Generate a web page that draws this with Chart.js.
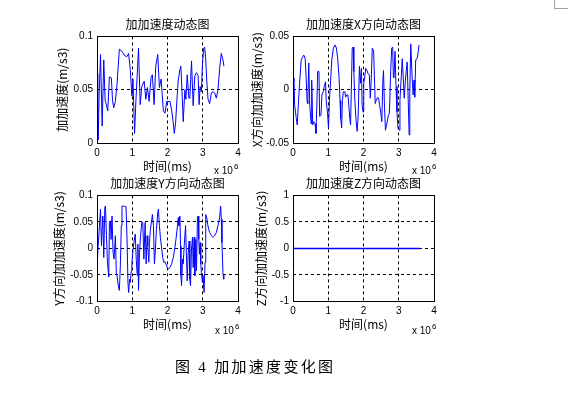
<!DOCTYPE html>
<html>
<head>
<meta charset="utf-8">
<script src="https://cdn.jsdelivr.net/npm/chart.js@4.4.1/dist/chart.umd.min.js"></script>
<style>
body{margin:0;background:#fff;width:568px;height:397px;position:relative;overflow:hidden}
canvas{position:absolute}
.mult{position:absolute;font:10px "Liberation Sans",Arial,sans-serif;line-height:12px;color:#000;white-space:nowrap}
.mult span{position:relative;top:-5px;font-size:8px;margin-left:1px}
#caption{position:absolute;left:175px;top:355px;font:15px "Liberation Serif","Noto Sans CJK SC",serif;letter-spacing:2.3px;color:#000;white-space:pre}
#corner{position:absolute;left:554px;top:0;width:14px;height:8px;border-left:1px solid #a0a0a0;border-bottom:1px solid #a0a0a0}
</style>
</head>
<body>
<div id="corner"></div>
<canvas id="c1" width="192" height="166" style="left:54px;top:10px"></canvas>
<canvas id="c2" width="193" height="166" style="left:249px;top:10px"></canvas>
<canvas id="c3" width="196" height="166" style="left:50px;top:169px"></canvas>
<canvas id="c4" width="193" height="166" style="left:249px;top:169px"></canvas>
<div class="mult" style="left:214px;top:165px">x 10<span>6</span></div>
<div class="mult" style="left:412px;top:165px">x 10<span>6</span></div>
<div class="mult" style="left:215px;top:325px">x 10<span>6</span></div>
<div class="mult" style="left:412px;top:325px">x 10<span>6</span></div>
<div id="caption">图 4 加加速度变化图</div>
<script>
// time in units of 10^6 ms
const xTicks = [0, 1, 2, 3, 4];
const xLabel = "时间(ms)";

const tJerk = [0, 0.02, 0.035, 0.06, 0.1, 0.146, 0.192, 0.23, 0.258, 0.305, 0.352, 0.408, 0.44, 0.474, 0.521, 0.568, 0.634, 0.709, 0.784, 0.85, 0.897, 0.944, 0.99, 1.02, 1.066, 1.103, 1.178, 1.225, 1.272, 1.338, 1.385, 1.432, 1.479, 1.535, 1.572, 1.62, 1.667, 1.723, 1.77, 1.817, 1.883, 1.93, 1.976, 2.07, 2.117, 2.164, 2.192, 2.23, 2.268, 2.305, 2.352, 2.38, 2.418, 2.446, 2.493, 2.521, 2.559, 2.606, 2.634, 2.681, 2.728, 2.775, 2.822, 2.869, 2.897, 2.925, 2.962, 2.99, 3.028, 3.056, 3.085, 3.113, 3.15, 3.197, 3.244, 3.291, 3.338, 3.385, 3.432, 3.479, 3.526, 3.573, 3.601];
const jerk = [0.065, 0.03, 0.003, 0.045, 0.083, 0.016, 0.078, 0.04, 0.037, 0.03, 0.062, 0.061, 0.04, 0.033, 0.039, 0.055, 0.088, 0.086, 0.082, 0.081, 0.084, 0.069, 0.044, 0.06, 0.009, 0.039, 0.089, 0.036, 0.053, 0.058, 0.041, 0.052, 0.039, 0.062, 0.064, 0.036, 0.072, 0.083, 0.052, 0.06, 0.03, 0.028, 0.039, 0.039, 0.031, 0.019, 0.009, 0.019, 0.041, 0.059, 0.069, 0.072, 0.043, 0.02, 0.05, 0.041, 0.064, 0.042, 0.042, 0.077, 0.035, 0.063, 0.066, 0.063, 0.036, 0.053, 0.048, 0.073, 0.089, 0.09, 0.078, 0.059, 0.041, 0.037, 0.047, 0.048, 0.047, 0.042, 0.05, 0.07, 0.084, 0.078, 0.072];

const tJerkX = [0, 0.027, 0.046, 0.093, 0.12, 0.158, 0.186, 0.233, 0.279, 0.307, 0.345, 0.372, 0.4, 0.419, 0.447, 0.475, 0.513, 0.531, 0.559, 0.587, 0.625, 0.652, 0.68, 0.699, 0.737, 0.755, 0.793, 0.82, 0.858, 0.886, 0.923, 0.942, 0.979, 1.007, 1.035, 1.073, 1.101, 1.147, 1.194, 1.231, 1.269, 1.306, 1.334, 1.353, 1.381, 1.4, 1.428, 1.474, 1.493, 1.521, 1.558, 1.586, 1.614, 1.633, 1.68, 1.708, 1.726, 1.754, 1.792, 1.82, 1.848, 1.885, 1.913, 1.941, 1.96, 1.988, 2.007, 2.035, 2.063, 2.1, 2.128, 2.165, 2.193, 2.221, 2.249, 2.287, 2.315, 2.333, 2.361, 2.399, 2.427, 2.455, 2.492, 2.52, 2.548, 2.567, 2.595, 2.623, 2.66, 2.707, 2.735, 2.772, 2.8, 2.828, 2.847, 2.866, 2.894, 2.922, 2.95, 2.978, 3.015, 3.034, 3.071, 3.099, 3.127, 3.155, 3.183, 3.211, 3.239, 3.267, 3.295, 3.313, 3.341, 3.379, 3.407, 3.435, 3.453, 3.481, 3.519, 3.547, 3.575];
const jerkX = [0.0075, 0.011, -0.014, -0.027, -0.033, -0.01, 0.006, 0.028, 0.031, 0.0325, 0.029, 0.012, -0.011, -0.013, 0.025, -0.014, -0.032, 0.009, -0.033, -0.03, -0.032, -0.041, -0.01, 0.017, 0.017, -0.025, -0.024, -0.005, -0.002, 0.003, 0.0075, -0.01, -0.022, -0.036, -0.01, 0.012, 0.028, 0.039, 0.042, 0.039, 0.029, 0.012, -0.01, -0.027, -0.036, -0.01, -0.002, -0.002, -0.007, -0.005, -0.005, -0.016, -0.028, -0.033, 0.039, 0.04, 0.017, -0.01, -0.03, -0.039, -0.025, 0.022, 0.006, 0.02, -0.014, -0.021, 0.006, 0.012, 0.02, 0.018, 0.015, 0.014, -0.008, 0.011, 0.039, 0.037, 0.006, -0.013, -0.01, -0.007, -0.008, -0.014, -0.022, -0.03, 0.0075, 0.018, -0.016, -0.038, -0.032, -0.024, -0.022, 0.018, 0.039, 0.04, 0.012, 0.011, 0.036, 0.003, -0.021, -0.036, -0.038, -0.01, 0.012, 0.029, 0.012, -0.008, 0.006, 0.017, 0.026, -0.008, -0.0425, -0.003, 0.043, 0.012, -0.005, 0.009, -0.007, 0.028, 0.029, 0.034, 0.042];

const tJerkY = [0, 0.014, 0.033, 0.07, 0.099, 0.127, 0.146, 0.164, 0.192, 0.221, 0.24, 0.268, 0.296, 0.333, 0.352, 0.38, 0.399, 0.427, 0.455, 0.484, 0.521, 0.549, 0.568, 0.596, 0.634, 0.662, 0.69, 0.709, 0.737, 0.784, 0.822, 0.85, 0.878, 0.897, 0.925, 0.944, 0.972, 0.99, 1.019, 1.047, 1.085, 1.113, 1.141, 1.16, 1.178, 1.207, 1.235, 1.272, 1.3, 1.329, 1.366, 1.394, 1.423, 1.441, 1.47, 1.488, 1.516, 1.554, 1.572, 1.601, 1.629, 1.657, 1.685, 1.723, 1.742, 1.77, 1.798, 1.836, 1.864, 1.892, 1.93, 1.976, 2.023, 2.07, 2.117, 2.164, 2.211, 2.239, 2.268, 2.286, 2.305, 2.324, 2.352, 2.371, 2.38, 2.399, 2.427, 2.446, 2.474, 2.512, 2.54, 2.559, 2.587, 2.615, 2.634, 2.653, 2.681, 2.709, 2.728, 2.756, 2.775, 2.803, 2.822, 2.85, 2.869, 2.887, 2.906, 2.925, 2.944, 2.962, 2.99, 3.009, 3.037, 3.066, 3.085, 3.113, 3.141, 3.169, 3.197, 3.244, 3.291, 3.338, 3.385, 3.432, 3.479, 3.507, 3.526, 3.545, 3.573, 3.592, 3.601];
const jerkY = [-0.07, -0.02, 0.005, 0.043, 0.074, 0.005, 0.039, 0.061, -0.017, 0.077, 0.08, 0.024, -0.026, -0.054, 0.049, 0.052, 0.017, 0.061, -0.008, -0.02, 0.024, -0.048, -0.051, -0.067, -0.079, -0.033, 0.043, 0.08, 0.08, 0.079, 0.079, 0.024, -0.064, -0.083, -0.058, -0.064, -0.042, -0.029, -0.004, 0.011, 0.027, -0.02, -0.051, 0.008, -0.079, -0.008, 0.024, 0.049, 0.049, -0.02, 0.049, -0.029, 0.024, 0.005, -0.026, 0.011, 0.036, 0.055, 0.064, 0.043, -0.029, -0.001, 0.036, 0.067, 0.074, 0.043, 0.021, -0.001, -0.017, -0.026, -0.025, -0.033, -0.039, -0.036, -0.029, -0.017, 0.002, 0.017, 0.033, 0.045, 0.058, 0.043, 0.061, 0.005, -0.051, -0.07, -0.02, -0.029, 0.005, 0.043, -0.02, -0.061, -0.008, 0.014, -0.058, -0.07, -0.001, 0.021, -0.036, 0.021, -0.051, 0.017, -0.042, 0.058, 0.061, 0.017, -0.011, 0.011, -0.029, -0.045, -0.064, -0.051, -0.083, -0.026, 0.064, 0.058, 0.045, 0.036, 0.03, 0.024, 0.021, 0.024, 0.03, 0.043, 0.058, 0.08, 0.055, 0.011, -0.045, -0.058, -0.05];

const tJerkZ = [0, 3.6];
const jerkZ = [0, 0];

const yTicksJerk = [0, 0.05, 0.1];
const yTicksX = [-0.05, 0, 0.05];
const yTicksY = [-0.1, -0.05, 0, 0.05, 0.1];
const yTicksZ = [-1, -0.5, 0, 0.5, 1];

const titles = ["加加速度动态图", "加加速度X方向动态图", "加加速度Y方向动态图", "加加速度Z方向动态图"];
const yLabels = ["加加速度(m/s3)", "X方向加加速度(m/s3)", "Y方向加加速度(m/s3)", "Z方向加加速度(m/s3)"];

const cjk = {family: '"Noto Sans CJK SC", sans-serif', size: 12, weight: "normal", lineHeight: 1.2};
const tickFont = {family: '"Liberation Sans", Arial, sans-serif', size: 10};

// MATLAB-style closed box round the axes
const boxPlugin = {
  id: "box",
  afterDraw(chart) {
    const a = chart.chartArea, ctx = chart.ctx;
    const l = Math.round(a.left - 0.5) + 0.5, r = Math.round(a.right - 0.5) + 0.5;
    const t = Math.round(a.top - 0.5) + 0.5, b = Math.round(a.bottom - 0.5) + 0.5;
    ctx.save();
    ctx.strokeStyle = "#000";
    ctx.lineWidth = 1;
    ctx.strokeRect(l, t, r - l, b - t);
    ctx.restore();
  }
};

function makeChart(id, t, v, yTicks, title, yLabel, lay) {
  new Chart(document.getElementById(id), {
    type: "line",
    data: {datasets: [{
      data: t.map((x, i) => ({x: x, y: v[i]})),
      borderColor: "#0000ff", borderWidth: lay.lw, pointRadius: 0, tension: 0, fill: false
    }]},
    options: {
      responsive: false, animation: false, events: [],
      layout: {padding: {left: 0, right: lay.padRight, top: 0, bottom: 0}},
      plugins: {
        legend: {display: false},
        tooltip: {enabled: false},
        title: {display: false}
      },
      scales: {
        x: {
          type: "linear", min: 0, max: 4,
          afterBuildTicks: s => { s.ticks = xTicks.map(value => ({value})); },
          afterFit: s => { s.height = lay.xh; },
          ticks: {color: "#000", font: tickFont, padding: 4, maxRotation: 0, autoSkip: false, callback: val => String(val)},
          grid: {color: "#000", lineWidth: 1, drawTicks: false},
          border: {display: false, dash: [3, 3]},
          title: {display: true, text: xLabel, color: "#000", font: cjk, padding: {top: 0, bottom: lay.xTitlePad}}
        },
        // top axis only carries the panel title, centred over the plot box
        top: {
          type: "linear", position: "top", min: 0, max: 4,
          afterFit: s => { s.height = 26.4; },
          ticks: {display: false},
          grid: {display: false},
          border: {display: false},
          title: {display: true, text: title, color: "#000", font: cjk, padding: {top: 7, bottom: 0}}
        },
        y: {
          type: "linear", min: yTicks[0], max: yTicks[yTicks.length - 1],
          afterBuildTicks: s => { s.ticks = yTicks.map(value => ({value})); },
          afterFit: s => { s.width = lay.yw; },
          ticks: {color: "#000", font: tickFont, padding: 4, autoSkip: false, callback: val => String(val)},
          grid: {color: "#000", lineWidth: 1, drawTicks: false},
          border: {display: false, dash: [3, 3]},
          title: {display: true, text: yLabel, color: "#000", font: cjk, padding: {top: lay.yTitlePad, bottom: 0}}
        }
      }
    },
    plugins: [boxPlugin]
  });
}

makeChart("c1", tJerk, jerk, yTicksJerk, titles[0], yLabels[0], {yw: 43, xh: 33, padRight: 8, xTitlePad: 2.8, yTitlePad: 1.3, lw: 1});
makeChart("c2", tJerkX, jerkX, yTicksX, titles[1], yLabels[1], {yw: 44, xh: 33, padRight: 8, xTitlePad: 2.8, yTitlePad: 0.8, lw: 1});
makeChart("c3", tJerkY, jerkY, yTicksY, titles[2], yLabels[2], {yw: 47, xh: 33.5, padRight: 8, xTitlePad: 3.3, yTitlePad: 1.8, lw: 1});
makeChart("c4", tJerkZ, jerkZ, yTicksZ, titles[3], yLabels[3], {yw: 44, xh: 33.5, padRight: 8, xTitlePad: 3.3, yTitlePad: 4.8, lw: 1.5});
</script>
</body>
</html>
